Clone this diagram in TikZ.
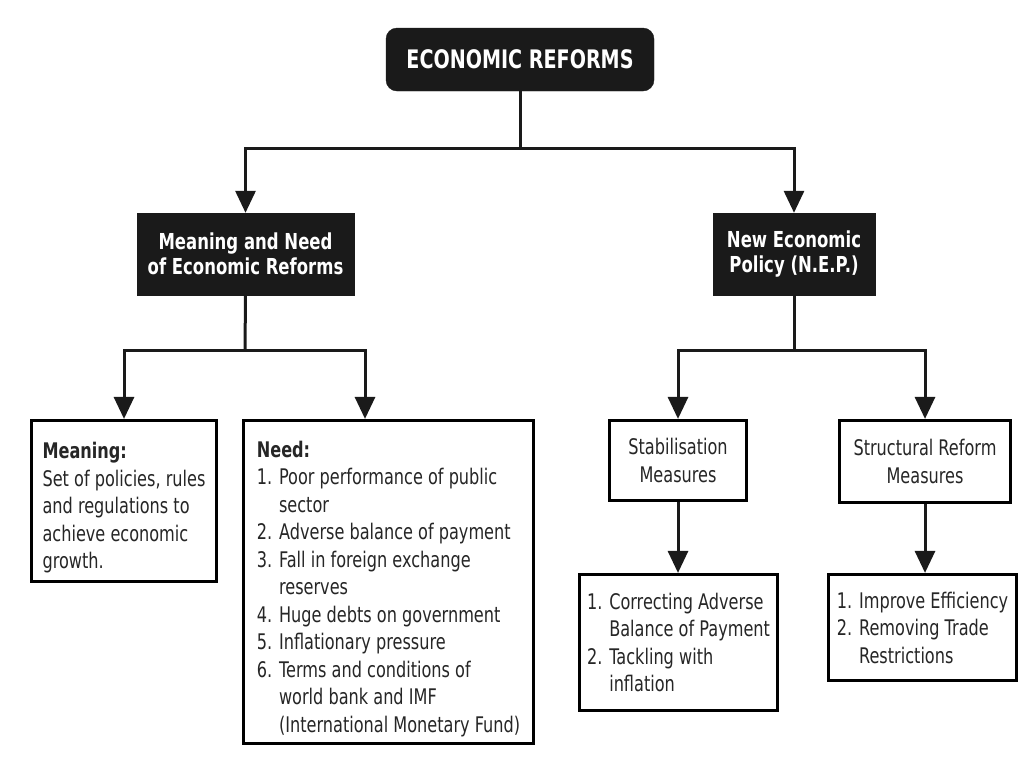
\documentclass[tikz,border=0pt]{standalone}
\usepackage{fontspec}
\setmainfont{DejaVu Sans}[FakeStretch=0.75]
\usetikzlibrary{arrows.meta}
\definecolor{boxblack}{HTML}{1A1A1A}
\definecolor{txt}{HTML}{262626}
\begin{document}
\begin{tikzpicture}[x=1pt,y=-1pt,
  blackbox/.style={fill=boxblack,draw=boxblack,text=white,font=\bfseries\fontsize{22}{25.5}\selectfont,align=center,inner sep=0pt},
  whitebox/.style={draw=black,line width=3.2pt,fill=white,text=txt,font=\fontsize{21.5}{27.5}\selectfont,align=left,inner sep=0pt},
  arr/.style={line width=3pt,draw=boxblack,-{Triangle[length=22pt,width=20pt]}},
  ln/.style={line width=3pt,draw=boxblack}]
\useasboundingbox (0,0) rectangle (1032,756);
\node[blackbox,rounded corners=11pt,minimum width=268pt,minimum height=63pt,font=\bfseries\fontsize{25.5}{28}\selectfont] (top) at (520,59.5) {ECONOMIC REFORMS};
\node[blackbox,minimum width=217pt,minimum height=82pt] (mn) at (245.5,254) {Meaning and Need\\of Economic Reforms};
\node[blackbox,minimum width=162pt,minimum height=82pt] (nep) at (794,254) {New Economic\\Policy (N.E.P.)};
\node[whitebox,minimum width=185pt,minimum height=161pt] (meaning) at (124,501) {\rule{0pt}{30pt}\textbf{Meaning:}\\Set of policies, rules\\and regulations to\\achieve economic\\growth.};
\node[whitebox,minimum width=290pt,minimum height=323pt] (need) at (388.5,582) {\rule{0pt}{30pt}\textbf{Need:}\\1. Poor performance of public\\\phantom{1. }sector\\2. Adverse balance of payment\\3. Fall in foreign exchange\\\phantom{3. }reserves\\4. Huge debts on government\\5. Inflationary pressure\\6. Terms and conditions of\\\phantom{6. }world bank and IMF\\\phantom{6. }(International Monetary Fund)};
\node[whitebox,align=center,minimum width=137pt,minimum height=80pt] (stab) at (678,460.5) {Stabilisation\\Measures};
\node[whitebox,align=center,minimum width=171pt,minimum height=82pt] (struct) at (925,461.5) {Structural Reform\\Measures};
\node[whitebox,minimum width=198pt,minimum height=136pt] (stablist) at (678.5,642.5) {1. Correcting Adverse\\\phantom{1. }Balance of Payment\\2. Tackling with\\\phantom{2. }inflation};
\node[whitebox,minimum width=188pt,minimum height=106pt] (structlist) at (922.5,627.5) {1. Improve Efficiency\\2. Removing Trade\\\phantom{2. }Restrictions};
\coordinate (j0) at (520,148);
\coordinate (j1) at (245,350);
\coordinate (j2) at (794,350);
\draw[ln] (top.south) -- (j0);
\draw[arr] (j0) -| (mn.north);
\draw[arr] (j0) -| (nep.north);
\draw[ln] (mn.south) -- (j1);
\draw[arr] (j1) -| (meaning.north);
\draw[arr] (j1) -| ([xshift=-23.5pt]need.north);
\draw[ln] (nep.south) -- (j2);
\draw[arr] (j2) -| (stab.north);
\draw[arr] (j2) -| (struct.north);
\draw[arr] (stab.south) -- (stablist.north -| stab.south);
\draw[arr] (struct.south) -- (structlist.north -| struct.south);
\end{tikzpicture}
\end{document}
